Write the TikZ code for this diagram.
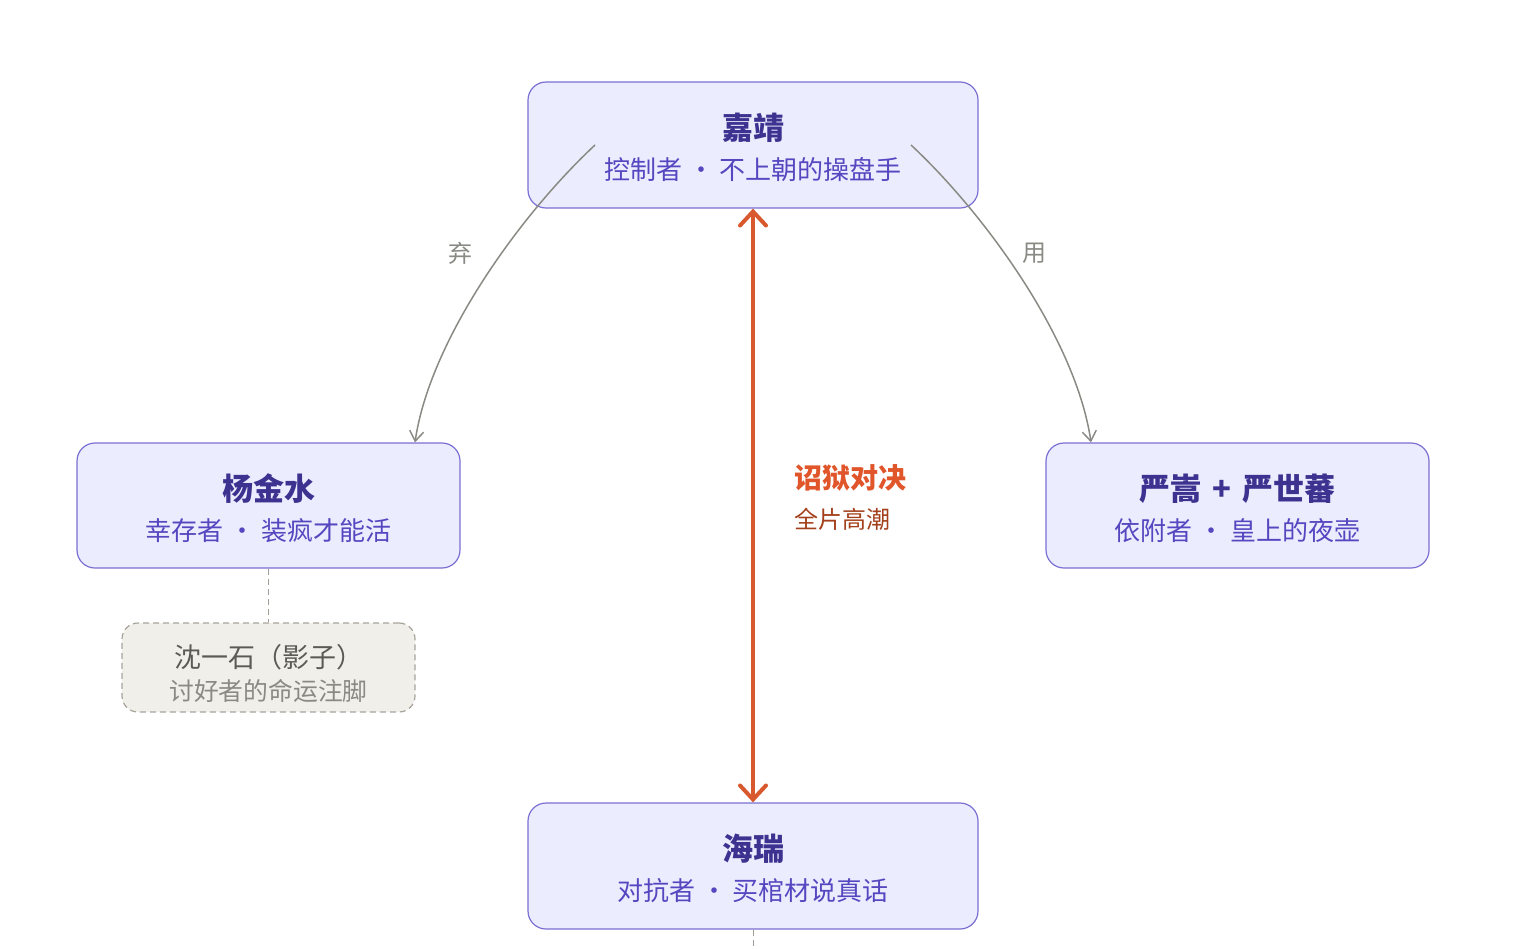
\documentclass[tikz,border=0pt]{standalone}
\usepackage{fontspec}
\setmainfont{Noto Sans CJK SC}
\usetikzlibrary{arrows.meta}

\definecolor{rolebg}{HTML}{ECECFF}
\definecolor{rolebd}{HTML}{7A6FD2}
\definecolor{roletitle}{HTML}{3D3290}
\definecolor{rolesub}{HTML}{5646C0}
\definecolor{shadowbg}{HTML}{F1EFE9}
\definecolor{shadowbd}{HTML}{A8A49C}
\definecolor{shadowtitle}{HTML}{5C5A55}
\definecolor{shadowsub}{HTML}{8C8984}
\definecolor{clash}{HTML}{D9592F}
\definecolor{clashtitle}{HTML}{E0562A}
\definecolor{clashsub}{HTML}{A3401C}
\definecolor{curve}{HTML}{8A8A85}
\definecolor{dashline}{HTML}{A09C96}

\newcommand\roletitle[1]{{\fontsize{15.5}{20}\selectfont\bfseries\color{roletitle}\rule{0pt}{16pt}#1}}

\tikzset{
  role/.style={draw=rolebd, fill=rolebg, line width=0.6pt, rounded corners=9pt,
    align=center, inner sep=0pt, text=rolesub, font=\fontsize{13}{20}\selectfont},
  shadowbox/.style={draw=shadowbd, fill=shadowbg, line width=0.6pt, dash pattern=on 3pt off 2pt,
    rounded corners=8pt, align=center, inner sep=0pt, text=shadowsub,
    minimum width=146.5pt, minimum height=44.5pt, font=\fontsize{12.4}{16.5}\selectfont},
  link/.style={draw=dashline, line width=0.5pt, dash pattern=on 3pt off 2pt},
  pull/.style={draw=curve, line width=0.75pt, -{Straight Barb[length=5pt,width=7pt]}},
  clasharrow/.style={draw=clash, line width=2pt, line cap=round,
    {Straight Barb[length=7pt,width=13pt,line cap=round]}-{Straight Barb[length=7pt,width=13pt,line cap=round]}},
  edgetext/.style={text=curve, font=\fontsize{12}{14}\selectfont}
}

\begin{document}
\begin{tikzpicture}[x=0.5pt, y=-0.5pt]
  \useasboundingbox (0,0) rectangle (1540,948);

  % Characters
  \node[role, minimum width=225pt, minimum height=63pt] (jiajing) at (753,145)
    {\roletitle{嘉靖}\\控制者 · 不上朝的操盘手};
  \node[role, minimum width=191.5pt, minimum height=62.5pt] (yang) at (268.5,505.5)
    {\roletitle{杨金水}\\幸存者 · 装疯才能活};
  \node[role, minimum width=191.5pt, minimum height=62.5pt] (yan) at (1237.5,505.5)
    {\roletitle{严嵩\hspace{0.35em}+\hspace{0.35em}严世蕃}\\依附者 · 皇上的夜壶};
  \node[role, minimum width=225pt, minimum height=63pt] (hairui) at (753,866)
    {\roletitle{海瑞}\\对抗者 · 买棺材说真话};

  % Shadow of Yang
  \node[shadowbox] (shen) at (268.5,667.5)
    {{\fontsize{13.5}{16.5}\selectfont\color{shadowtitle}\rule{0pt}{18pt}沈一石（影子）}\\讨好者的命运注脚};
  \draw[link] (yang.south) -- (shen.north);

  % Trail below Hai Rui
  \coordinate (hrEnd) at (753,948);
  \draw[link] (hairui.south) -- (hrEnd);

  % Drop and use
  \coordinate (qiStart) at (595,145);
  \coordinate (yongStart) at (911,145);
  \draw[pull] (qiStart) .. controls (520,215) and (430,340) .. (yang.north -| 415,0);
  \draw[pull] (yongStart) .. controls (986,215) and (1076,340) .. (yan.north -| 1091,0);
  \node[edgetext] (qi) at (460,253) {弃};
  \node[edgetext] (yong) at (1034,253) {用};

  % Showdown
  \draw[clasharrow] (jiajing.south) -- (hairui.north);
  \node[anchor=west, inner sep=0pt, text=clashtitle, font=\fontsize{14}{16}\selectfont\bfseries]
    (clash) at (794,478) {诏狱对决};
  \node[anchor=west, inner sep=0pt, text=clashsub, font=\fontsize{12}{14}\selectfont]
    (climax) at (794,519) {全片高潮};
\end{tikzpicture}
\end{document}
